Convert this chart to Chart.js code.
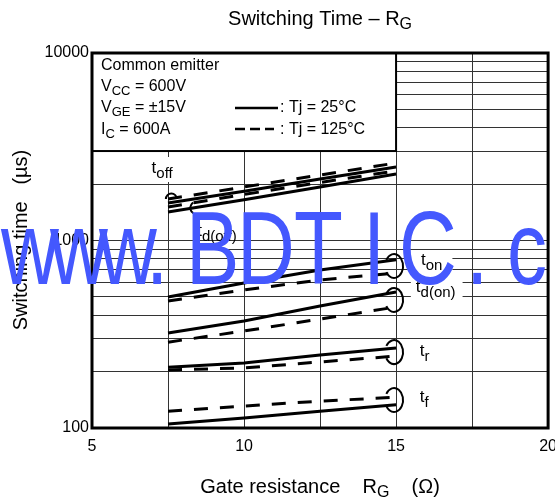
<!DOCTYPE html>
<html>
<head>
<meta charset="utf-8">
<script src="https://cdn.jsdelivr.net/npm/chart.js@4"></script>
<style>
  html, body { margin: 0; padding: 0; background: #fff; overflow: hidden; }
  #wrap { width: 566px; height: 502px; }
</style>
</head>
<body>
<div id="wrap"><canvas id="rgChart" width="566" height="502"></canvas></div>
<script>
// values (gate resistance in ohm, time in us)
const gateRes = [7.5, 10, 12.5, 15];
const toff25 = [1585, 1830, 2130, 2465];
const toff125 = [1665, 1930, 2235, 2590];
const tdoff25 = [1420, 1650, 1930, 2263];
const tdoff125 = [1510, 1760, 2040, 2350];
const ton25 = [500, 593, 696, 790];
const ton125 = [476, 545, 616, 671];
const tdon25 = [321, 372, 447, 531];
const tdon125 = [287, 329, 381, 442];
const tr25 = [211, 222, 245, 267];
const tr125 = [204, 209, 225, 242];
const tf25 = [105, 113, 123, 133];
const tf125 = [123, 131, 139, 146];

const xTicks = [5, 7.5, 10, 12.5, 15, 17.5, 20];
const xLabels = [5, 10, 15, 20];
const yTicks = [100, 200, 300, 400, 500, 600, 700, 800, 900,
  1000, 2000, 3000, 4000, 5000, 6000, 7000, 8000, 9000, 10000];
const yLabels = [100, 1000, 10000];

// curve names and where they sit (data units)
const curveLabels = [
  { sub: 'off', x: 6.96, y: 2291, bg: [11, 18, 16, 9] },
  { sub: 'd(off)', x: 8.46, y: 1057 },
  { sub: 'on', x: 15.82, y: 740, bg: [11, 10, 13, 11] },
  { sub: 'd(on)', x: 15.65, y: 531, bg: [5, 7, 12, 10] },
  { sub: 'r', x: 15.78, y: 242 },
  { sub: 'f', x: 15.78, y: 138 },
];
const rightLoops = [731, 482, 254, 141];

const FONT = 'Arial, "Liberation Sans", sans-serif';

function drawRich(ctx, parts, x, y, align) {
  let total = 0;
  parts.forEach((p) => {
    ctx.font = p[1] + 'px ' + FONT;
    total += ctx.measureText(p[0]).width;
  });
  let cx = align === 'center' ? x - total / 2 : x;
  ctx.textAlign = 'left';
  ctx.textBaseline = 'alphabetic';
  parts.forEach((p) => {
    ctx.font = p[1] + 'px ' + FONT;
    ctx.fillText(p[0], cx, y + (p[2] || 0));
    cx += ctx.measureText(p[0]).width;
  });
  return total;
}

function makeSet(data, dashed) {
  return {
    data: gateRes.map((x, i) => ({ x, y: data[i] })),
    borderColor: '#000',
    borderWidth: 3,
    borderDash: dashed ? [14, 12] : [],
    pointRadius: 0,
    tension: 0,
    fill: false,
  };
}

const overlay = {
  id: 'overlay',
  beforeDatasetsDraw(chart) {
    // condition box in the top left corner, drawn over the grid
    const { ctx } = chart;
    const xs = chart.scales.x;
    const ys = chart.scales.y;
    const l = xs.getPixelForValue(5);
    const r = xs.getPixelForValue(15);
    const t = ys.getPixelForValue(10000);
    const b = ys.getPixelForValue(3000);
    ctx.save();
    ctx.fillStyle = '#fff';
    ctx.fillRect(l, t, r - l, b - t);
    ctx.strokeStyle = '#000';
    ctx.lineWidth = 2;
    ctx.strokeRect(l, t, r - l, b - t);

    ctx.fillStyle = '#000';
    drawRich(ctx, [['Common emitter', 16]], l + 9, t + 17);
    drawRich(ctx, [['V', 16], ['CC', 13, 4], [' = 600V', 16]], l + 9, t + 38);
    drawRich(ctx, [['V', 16], ['GE', 13, 4], [' = ±15V', 16]], l + 9, t + 59);
    drawRich(ctx, [['I', 16], ['C', 13, 4], [' = 600A', 16]], l + 9, t + 81);

    ctx.lineWidth = 2.5;
    ctx.beginPath();
    ctx.moveTo(l + 143, t + 55);
    ctx.lineTo(l + 186, t + 55);
    ctx.stroke();
    ctx.setLineDash([10, 5]);
    ctx.beginPath();
    ctx.moveTo(l + 143, t + 76);
    ctx.lineTo(l + 182, t + 76);
    ctx.stroke();
    ctx.setLineDash([]);
    drawRich(ctx, [[': Tj = 25°C', 16]], l + 188, t + 59);
    drawRich(ctx, [[': Tj = 125°C', 16]], l + 188, t + 81);
    ctx.restore();
  },
  afterDatasetsDraw(chart) {
    const { ctx, chartArea } = chart;
    const xs = chart.scales.x;
    const ys = chart.scales.y;
    ctx.save();

    // curve names
    curveLabels.forEach((c) => {
      const px = xs.getPixelForValue(c.x);
      const py = ys.getPixelForValue(c.y);
      ctx.font = '17px ' + FONT;
      let w = ctx.measureText('t').width;
      ctx.font = '15px ' + FONT;
      w += ctx.measureText(c.sub).width;
      if (c.bg) {
        ctx.fillStyle = '#fff';
        ctx.fillRect(px - c.bg[0], py - c.bg[2], w + c.bg[0] + c.bg[1], c.bg[2] + c.bg[3]);
      }
      ctx.fillStyle = '#000';
      drawRich(ctx, [['t', 17], [c.sub, 15, 5]], px, py);
    });

    // loops that tie each pair of curves to its name
    ctx.strokeStyle = '#000';
    ctx.lineWidth = 2;
    const xEnd = xs.getPixelForValue(15);
    rightLoops.forEach((v) => {
      const py = ys.getPixelForValue(v);
      ctx.beginPath();
      ctx.ellipse(xEnd - 2, py, 9, 12, 0, -2.6, 2.6);
      ctx.stroke();
    });
    ctx.beginPath();
    ctx.arc(xs.getPixelForValue(7.61), ys.getPixelForValue(1665), 5.5, Math.PI, 2 * Math.PI);
    ctx.stroke();
    ctx.beginPath();
    ctx.arc(xs.getPixelForValue(8.43), ys.getPixelForValue(1491), 6, 2.1, 4.2);
    ctx.stroke();

    // heavy frame
    ctx.lineWidth = 3;
    ctx.strokeRect(chartArea.left, chartArea.top,
      chartArea.right - chartArea.left, chartArea.bottom - chartArea.top);

    // titles
    ctx.fillStyle = '#000';
    const mid = (chartArea.left + chartArea.right) / 2;
    drawRich(ctx, [['Switching Time – R', 20], ['G', 16, 4]], mid, 25, 'center');
    drawRich(ctx, [['Gate resistance    R', 20], ['G', 16, 4], ['    (Ω)', 20]], mid, 493, 'center');
    ctx.translate(27, 240);
    ctx.rotate(-Math.PI / 2);
    drawRich(ctx, [['Switching time   (µs)', 20]], 0, 0, 'center');
    ctx.restore();
  },
  afterDraw(chart) {
    // watermark on top of everything
    const { ctx } = chart;
    const marks = [['w', 1], ['w', 50], ['w', 99], ['.', 146], ['B', 186], ['D', 237],
      ['T', 294], ['I', 363], ['C', 399], ['.', 466], ['c', 507]];
    ctx.save();
    ctx.fillStyle = '#4458fe';
    ctx.font = '80px ' + FONT;
    ctx.textAlign = 'left';
    ctx.textBaseline = 'alphabetic';
    ctx.translate(0, 284);
    ctx.scale(1, 1.29);
    marks.forEach(([ch, x]) => ctx.fillText(ch, x, 0));
    ctx.restore();
  },
};

Chart.defaults.font.family = FONT;
Chart.defaults.color = '#000';

new Chart(document.getElementById('rgChart').getContext('2d'), {
  type: 'line',
  data: {
    datasets: [
      makeSet(toff25, false),
      makeSet(toff125, true),
      makeSet(tdoff25, false),
      makeSet(tdoff125, true),
      makeSet(ton25, false),
      makeSet(ton125, true),
      makeSet(tdon25, false),
      makeSet(tdon125, true),
      makeSet(tr25, false),
      makeSet(tr125, true),
      makeSet(tf25, false),
      makeSet(tf125, true),
    ],
  },
  options: {
    responsive: false,
    animation: false,
    devicePixelRatio: 1,
    layout: { padding: { top: 53, right: 15, left: 0, bottom: 0 } },
    plugins: {
      legend: { display: false },
      tooltip: { enabled: false },
    },
    scales: {
      x: {
        type: 'linear',
        min: 5,
        max: 20,
        afterBuildTicks: (s) => {
          s.ticks = xTicks.map((v) => ({ value: v }));
        },
        afterFit: (s) => {
          s.height = 74;
        },
        grid: { color: '#333', lineWidth: 1, drawTicks: false },
        border: { display: false },
        ticks: {
          padding: 9,
          autoSkip: false,
          maxRotation: 0,
          font: { size: 16 },
          callback: (v) => (xLabels.includes(v) ? String(v) : ''),
        },
      },
      y: {
        type: 'logarithmic',
        min: 100,
        max: 10000,
        afterBuildTicks: (s) => {
          s.ticks = yTicks.map((v) => ({ value: v }));
        },
        afterFit: (s) => {
          s.width = 92;
        },
        grid: { color: '#333', lineWidth: 1, drawTicks: false },
        border: { display: false },
        ticks: {
          padding: 3,
          autoSkip: false,
          font: { size: 16 },
          callback: (v) => (yLabels.includes(v) ? String(v) : ''),
        },
      },
    },
  },
  plugins: [overlay],
});
</script>
</body>
</html>
